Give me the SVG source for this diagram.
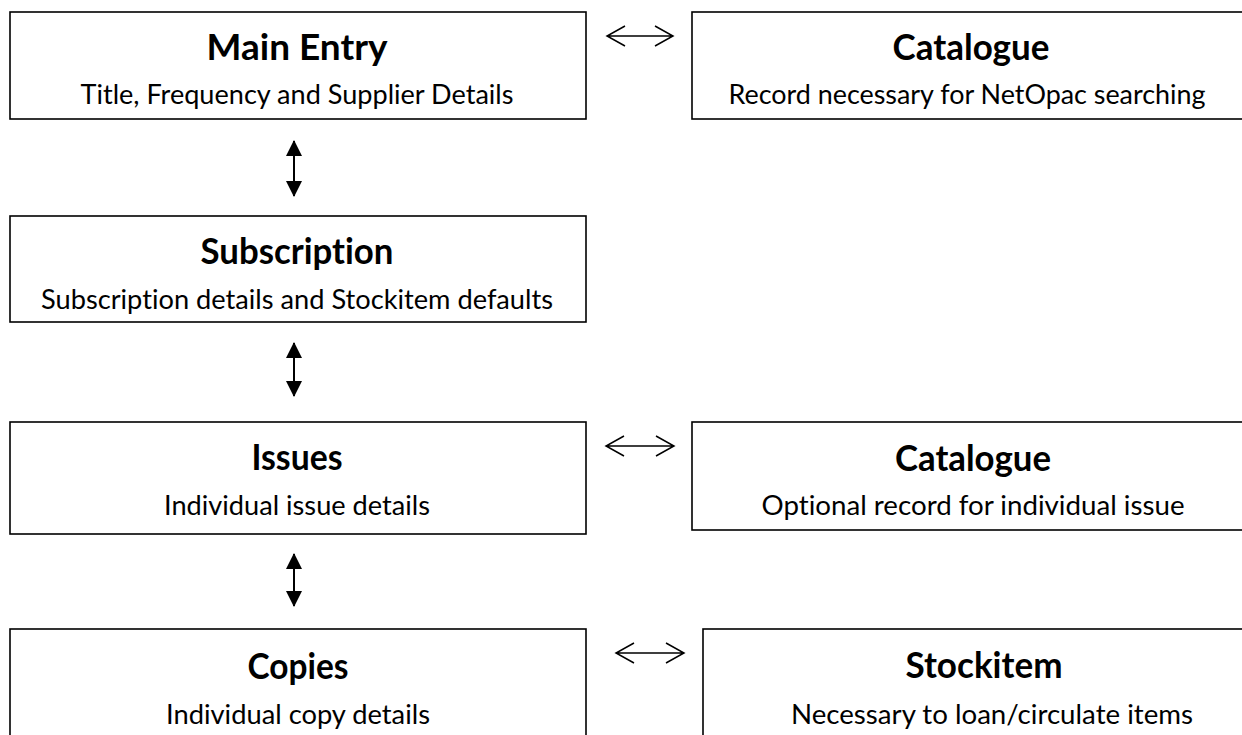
<svg xmlns="http://www.w3.org/2000/svg" width="1242" height="735" viewBox="0 0 1242 735">
<style>
.box{fill:#fff;stroke:#000;stroke-width:1.6}
.t{font-family:Lato,"Open Sans","Liberation Sans",sans-serif;font-weight:bold;font-size:36px;text-anchor:middle;fill:#000;font-variant-ligatures:none}
.s{font-family:Lato,"Open Sans","Liberation Sans",sans-serif;font-size:27px;text-anchor:middle;fill:#000;font-variant-ligatures:none}
.h{fill:none;stroke:#000;stroke-width:1.5}
.v{stroke:#000;stroke-width:2}
</style>
<defs>
<marker id="tri" viewBox="0 0 16 16" refX="15" refY="8" markerWidth="16" markerHeight="16" markerUnits="userSpaceOnUse" orient="auto-start-reverse">
<path d="M0,0 L16,8 L0,16 Z" fill="#000"/>
</marker>
</defs>
<rect width="1242" height="735" fill="#fff"/>
<g id="main-entry">
<rect class="box" x="10" y="12" width="576" height="107"/>
<text class="t" x="297" y="60" textLength="181" lengthAdjust="spacingAndGlyphs">Main Entry</text>
<text class="s" x="297" y="104" textLength="433" lengthAdjust="spacingAndGlyphs">Title, Frequency and Supplier Details</text>
</g>
<g id="catalogue-1">
<rect class="box" x="692" y="12" width="560" height="107"/>
<text class="t" x="971" y="60" textLength="157" lengthAdjust="spacingAndGlyphs">Catalogue</text>
<text class="s" x="967" y="104" textLength="477" lengthAdjust="spacingAndGlyphs">Record necessary for NetOpac searching</text>
</g>
<g id="subscription">
<rect class="box" x="10" y="216" width="576" height="106"/>
<text class="t" x="297" y="264" textLength="193" lengthAdjust="spacingAndGlyphs">Subscription</text>
<text class="s" x="297" y="309" textLength="512" lengthAdjust="spacingAndGlyphs">Subscription details and Stockitem defaults</text>
</g>
<g id="issues">
<rect class="box" x="10" y="422" width="576" height="112"/>
<text class="t" x="297" y="470" textLength="91" lengthAdjust="spacingAndGlyphs">Issues</text>
<text class="s" x="297" y="515" textLength="266" lengthAdjust="spacingAndGlyphs">Individual issue details</text>
</g>
<g id="catalogue-2">
<rect class="box" x="692" y="422" width="560" height="108"/>
<text class="t" x="973" y="471" textLength="156" lengthAdjust="spacingAndGlyphs">Catalogue</text>
<text class="s" x="973" y="515" textLength="423" lengthAdjust="spacingAndGlyphs">Optional record for individual issue</text>
</g>
<g id="copies">
<rect class="box" x="10" y="629" width="576" height="120"/>
<text class="t" x="298" y="679" textLength="101" lengthAdjust="spacingAndGlyphs">Copies</text>
<text class="s" x="298" y="724" textLength="264" lengthAdjust="spacingAndGlyphs">Individual copy details</text>
</g>
<g id="stockitem">
<rect class="box" x="703" y="629" width="570" height="120"/>
<text class="t" x="984" y="678" textLength="157" lengthAdjust="spacingAndGlyphs">Stockitem</text>
<text class="s" x="992" y="724" textLength="402" lengthAdjust="spacingAndGlyphs">Necessary to loan/circulate items</text>
</g>
<g id="connectors">
<path class="h" d="M607,36 H673 M625,26 L607,36 L625,46 M655,26 L673,36 L655,46"/>
<path class="h" d="M606,446 H674 M624,436 L606,446 L624,456 M656,436 L674,446 L656,456"/>
<path class="h" d="M616,653 H684 M634,643 L616,653 L634,663 M666,643 L684,653 L666,663"/>
<line class="v" x1="294" y1="141" x2="294" y2="196" marker-start="url(#tri)" marker-end="url(#tri)"/>
<line class="v" x1="294" y1="343" x2="294" y2="396" marker-start="url(#tri)" marker-end="url(#tri)"/>
<line class="v" x1="294" y1="554" x2="294" y2="606" marker-start="url(#tri)" marker-end="url(#tri)"/>
</g>
</svg>
